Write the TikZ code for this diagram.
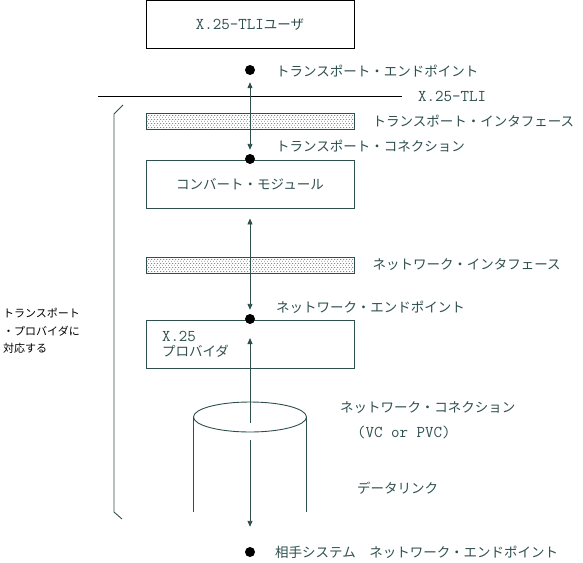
\documentclass[tikz,border=0pt]{standalone}
\usepackage{fontspec}
\newfontfamily\jp{Noto Sans CJK JP}
\usetikzlibrary{arrows.meta,patterns,positioning}
\definecolor{slate}{HTML}{2F4F4F}
\newcommand{\asc}[1]{{\ttfamily\fontsize{16.5}{15}\selectfont #1}}
\pgfdeclarepatternformonly{stipple}{\pgfqpoint{0pt}{0pt}}{\pgfqpoint{3pt}{4pt}}{\pgfqpoint{3pt}{4pt}}{%
  \pgfpathrectangle{\pgfqpoint{0.4pt}{0.4pt}}{\pgfqpoint{0.9pt}{0.9pt}}%
  \pgfpathrectangle{\pgfqpoint{1.9pt}{2.4pt}}{\pgfqpoint{0.9pt}{0.9pt}}%
  \pgfusepath{fill}}

\begin{document}
\begin{tikzpicture}[x=1pt,y=-1pt,
    box/.style={draw=slate,line width=0.9pt,minimum width=208pt,minimum height=48pt,
      font=\jp\fontsize{13.5}{15}\selectfont,text=slate},
    ifbox/.style={draw=slate,line width=0.9pt,minimum width=208pt,minimum height=16pt,
      pattern=stipple,pattern color=slate},
    dot/.style={circle,fill=black,inner sep=0pt,minimum size=10pt},
    lbl/.style={anchor=west,inner sep=0pt,font=\jp\fontsize{13.5}{15}\selectfont,text=slate},
    arr/.style={draw=slate,line width=0.9pt},
    tip/.tip={Triangle[width=5pt,length=6pt]}]
    \useasboundingbox (0,0) rectangle (583,562);
    % Draw boxes
    \node[box,draw=black] (usr) at (250,24.5) {\asc{X.25-TLI}ユーザ};
    \node[ifbox] (tif) at (250,121) {};
    \node[box] (conv) at (250,184) {コンバート・モジュール};
    \node[ifbox] (nif) at (250,265) {};
    \node[box,align=left,text width=176pt,inner xsep=16pt] (x25) at (250,344.5)
        {\asc{X.25}\\プロバイダ};
    % Draw end points
    \node[dot] (tep) at (250,70) {};
    \node[dot] (tcon) at (250,159) {};
    \node[dot] (nep) at (250,319) {};
    \node[dot] (rep) at (250,552) {};
    % TLI line and bracket
    \coordinate (tli-l) at (98,96);
    \coordinate (tli-r) at (402,96);
    \draw[line width=0.9pt] (tli-l) -- (tli-r);
    \draw[arr] (123,105) -- (114,114) -- (114,512) -- (122,519);
    % Draw data link cylinder
    \draw[arr] (250,417) ellipse [x radius=56.5pt,y radius=15pt];
    \draw[arr] (193.5,417) -- (193.5,512);
    \draw[arr] (306.5,417) -- (306.5,512);
    % Draw connections
    \coordinate (x25in) at (250,338);
    \coordinate (cylin) at (250,423);
    \coordinate (cylout) at (250,440);
    \draw[arr,tip-tip,shorten <=7pt,shorten >=4pt] (tep) -- (tcon);
    \draw[arr,tip-tip,shorten <=10pt,shorten >=4pt] (conv) -- (nep);
    \draw[arr,tip-] (x25in) -- (cylin);
    \draw[arr,-tip,shorten >=20pt] (cylout) -- (rep);
    % Labels
    \node[lbl] at (276,71) {トランスポート・エンドポイント};
    \node[lbl,right=16pt of tli-r] {\asc{X.25-TLI}};
    \node[lbl,right=18pt of tif] {トランスポート・インタフェース};
    \node[lbl] at (276,146) {トランスポート・コネクション};
    \node[lbl,right=18pt of nif] {ネットワーク・インタフェース};
    \node[lbl] at (276,307) {ネットワーク・エンドポイント};
    \node[lbl] at (340,408) {ネットワーク・コネクション};
    \node[lbl] at (357,432) {\asc{(VC or PVC)}};
    \node[lbl] at (357,488) {データリンク};
    \node[lbl] at (275,552) {相手システム　ネットワーク・エンドポイント};
    \node[lbl,align=left,text=black,font=\jp\fontsize{11}{17.5}\selectfont] at (3,331)
        {トランスポート\\・プロバイダに\\対応する};
\end{tikzpicture}
\end{document}
